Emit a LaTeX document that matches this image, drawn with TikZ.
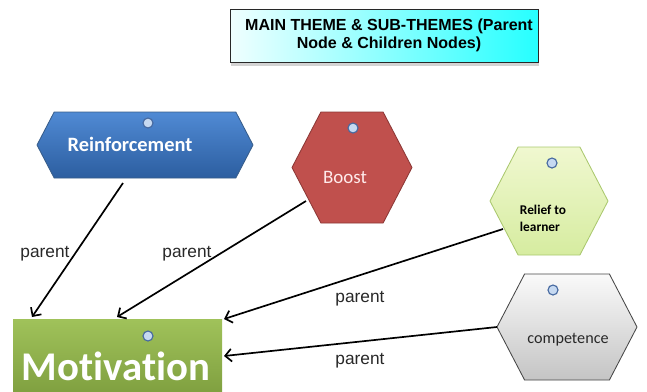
\documentclass[tikz,border=0pt]{standalone}
\usepackage{fontspec}
\setmainfont{Carlito}[RawFeature={-liga}]
\newfontfamily\arialfont{Liberation Sans}
\usetikzlibrary{shapes.symbols,arrows.meta,shadows}

\newdimen\unitpx
\unitpx=0.025cm

\definecolor{blueTop}{RGB}{80,138,212}
\definecolor{blueBot}{RGB}{44,94,160}
\definecolor{blueLine}{RGB}{56,93,138}
\definecolor{redFill}{RGB}{192,80,77}
\definecolor{redLine}{RGB}{140,56,54}
\definecolor{limeTop}{RGB}{240,248,208}
\definecolor{limeBot}{RGB}{214,236,160}
\definecolor{limeLine}{RGB}{170,200,110}
\definecolor{greyTop}{RGB}{250,250,250}
\definecolor{greyBot}{RGB}{196,196,196}
\definecolor{greyLine}{RGB}{70,70,70}
\definecolor{greenTop}{RGB}{160,194,90}
\definecolor{greenBot}{RGB}{118,150,56}
\definecolor{dotFill}{RGB}{198,217,241}
\definecolor{dotLine}{RGB}{70,105,160}
\definecolor{textGrey}{RGB}{40,40,40}

\tikzset{> = {Straight Barb[length=4.5pt,width=9pt]}, every picture/.style={line width=0.7pt}}

\begin{document}
\begin{tikzpicture}[x=0.025cm,y=-0.025cm]
\useasboundingbox (0,0) rectangle (647,391);

% heading
\node[draw=textGrey, line width=0.6pt, left color=cyan!6, right color=cyan!85,
      minimum width=308\unitpx, minimum height=53\unitpx,
      drop shadow={shadow xshift=1pt, shadow yshift=-3pt, opacity=0.35}]
  (title) at (384,35.5) {};
\node[align=center, font=\arialfont\bfseries\fontsize{11.4}{12.8}\selectfont]
  (titleText) at (389,35) {MAIN THEME \& SUB-THEMES (Parent\\Node \& Children Nodes)};

% sub-themes
\begin{scope}[every node/.style={signal, signal to=west and east, signal pointer angle=125, inner sep=0pt, line width=0.6pt}]
\node[draw=blueLine, top color=blueTop, bottom color=blueBot, minimum width=216\unitpx, minimum height=66\unitpx] (reinf) at (145,145) {};
\node[draw=redLine, fill=redFill, minimum width=120\unitpx, minimum height=111\unitpx] (boost) at (352,167.5) {};
\node[draw=limeLine, top color=limeTop, bottom color=limeBot, minimum width=118\unitpx, minimum height=108\unitpx] (relief) at (549,201) {};
\node[draw=greyLine, top color=greyTop, bottom color=greyBot, minimum width=140\unitpx, minimum height=106\unitpx] (comp) at (567,327) {};
\end{scope}

% main theme
\node[rectangle, top color=greenTop, bottom color=greenBot, minimum width=209\unitpx, minimum height=96\unitpx, inner sep=0pt] (motiv) at (117.5,367) {};

% captions
\node[text=white, font=\bfseries\fontsize{14.5}{16}\selectfont] (reinfText) at (130,144) {Reinforcement};
\node[text=white!92!red, font=\fontsize{13.5}{15}\selectfont] (boostText) at (345,177) {Boost};
\node[text=black, align=left, font=\bfseries\fontsize{9.5}{12}\selectfont] (reliefText) at (543,218) {Relief to\\learner};
\node[text=textGrey, font=\fontsize{11.5}{13}\selectfont] (compText) at (568,340) {competence};
\node[text=white, font=\bfseries\fontsize{29}{32}\selectfont] (motivText) at (116,366) {Motivation};

% little handles
\begin{scope}[every node/.style={circle, draw=dotLine, fill=dotFill, minimum size=10\unitpx, inner sep=0pt, line width=0.8pt}]
\node (reinfDot) at (148,123) {};
\node (boostDot) at (353,128) {};
\node (reliefDot) at (552,163) {};
\node (compDot) at (553,290) {};
\node (motivDot) at (148,336) {};
\end{scope}

% links to the parent
\begin{scope}[line width=1.2pt]
    \draw [->] ([shift={(-22,38)}]reinf.center) -- ([shift={(-85.5,-50)}]motiv.center);
    \draw [->] ([shift={(-46,33.5)}]boost.center) -- ([shift={(-0.5,-50)}]motiv.center);
    \draw [->] ([shift={(-46,28)}]relief.center) -- ([shift={(106.5,-48)}]motiv.center);
    \draw [->] ([shift={(-70,0)}]comp.center) -- ([shift={(106.5,-11)}]motiv.center);
\end{scope}

\begin{scope}[every node/.style={text=textGrey, font=\arialfont\fontsize{12.3}{14}\selectfont}]
\node (lab1) at (45,254) {parent};
\node (lab2) at (187,254) {parent};
\node (lab3) at (360,299) {parent};
\node (lab4) at (360,361) {parent};
\end{scope}
\end{tikzpicture}
\end{document}
